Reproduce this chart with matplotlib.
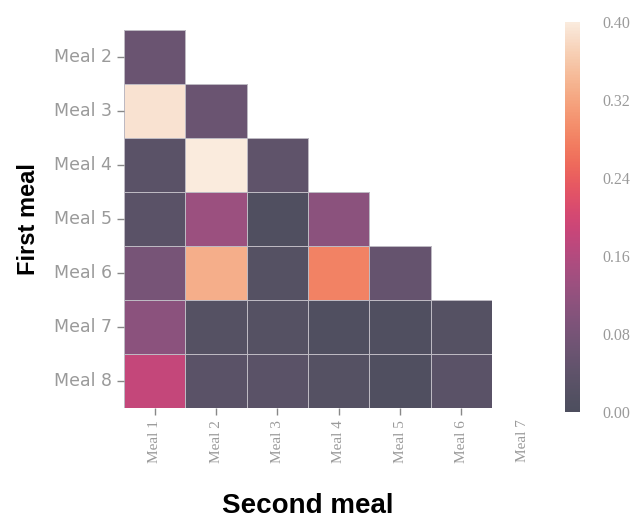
import numpy as np
import matplotlib
matplotlib.use("Agg")
import matplotlib.pyplot as plt
import matplotlib.ticker as mticker
from matplotlib.colors import ListedColormap
import seaborn as sns

rows = ["Meal 2", "Meal 3", "Meal 4", "Meal 5", "Meal 6", "Meal 7", "Meal 8"]
cols = ["Meal 1", "Meal 2", "Meal 3", "Meal 4", "Meal 5", "Meal 6"]
extra_col_label = "Meal 7"

row_meal2 = [0.06]
row_meal3 = [0.39, 0.06]
row_meal4 = [0.03, 0.40, 0.04]
row_meal5 = [0.03, 0.13, 0.01, 0.11]
row_meal6 = [0.08, 0.33, 0.02, 0.28, 0.05]
row_meal7 = [0.11, 0.02, 0.02, 0.01, 0.01, 0.02]
row_meal8 = [0.18, 0.03, 0.03, 0.02, 0.01, 0.03]

cbar_ticks = [0.00, 0.08, 0.16, 0.24, 0.32, 0.40]

all_rows = [row_meal2, row_meal3, row_meal4, row_meal5, row_meal6, row_meal7, row_meal8]
mat = np.full((len(rows), len(cols)), np.nan)
for i, r in enumerate(all_rows):
    mat[i, :len(r)] = r
mask = np.isnan(mat)

# rocket palette with a light haze (stronger on dark colours), as in the reference
base = np.array(sns.color_palette("rocket", 256))
lum = base @ np.array([0.299, 0.587, 0.114])
amt = (0.68 + 0.32 * lum)[:, None]
cmap = ListedColormap(amt * base + (1 - amt) * np.array([0.94, 0.94, 0.96]))

fig = plt.figure(figsize=(6.41, 5.26), dpi=100)
ax = fig.add_axes([124/641, 1-408/526, (492-124)/641, (408-30)/526])
cax = fig.add_axes([565/641, 1-412/526, 15/641, (412-22)/526])

edge = "#bdb9c2"
sns.heatmap(mat, ax=ax, cbar_ax=cax, cmap=cmap, vmin=0, vmax=0.40,
            mask=mask, linewidths=0.7, linecolor=edge,
            xticklabels=cols, yticklabels=rows,
            cbar_kws={"ticks": cbar_ticks})

# hide edges of masked (empty) cells
mesh = ax.collections[0]
ec = np.tile(matplotlib.colors.to_rgba(edge), (mat.size, 1))
ec[mask.ravel()] = (1, 1, 1, 0)
mesh.set_edgecolor(ec)

grey = "#9a9a9a"
ax.tick_params(axis="y", colors="#888888", labelcolor=grey, labelsize=12.5, length=5, width=1, rotation=0)
ax.tick_params(axis="x", colors="#888888", labelcolor=grey, labelsize=11, length=5, width=1)
for lbl in ax.get_xticklabels():
    lbl.set_rotation(90)
    lbl.set_family("Liberation Serif")
ax.text(6.5, len(rows) + 0.2, extra_col_label, rotation=90, ha="center", va="top",
        color=grey, fontsize=11, family="Liberation Serif", clip_on=False)

ax.set_xlabel("Second meal", fontsize=20, fontweight="bold", family="Liberation Sans",
              color="black", labelpad=22)
ax.set_ylabel("First meal", fontsize=17, fontweight="bold", family="Liberation Sans",
              color="black", labelpad=10)

cax.tick_params(labelsize=11.5, labelcolor=grey, length=0, pad=16)
for lbl in cax.get_yticklabels():
    lbl.set_family("Liberation Serif")
cax.yaxis.set_major_formatter(mticker.FormatStrFormatter("%.2f"))
for s in cax.spines.values():
    s.set_visible(False)

fig.savefig("out.png", dpi=100)
